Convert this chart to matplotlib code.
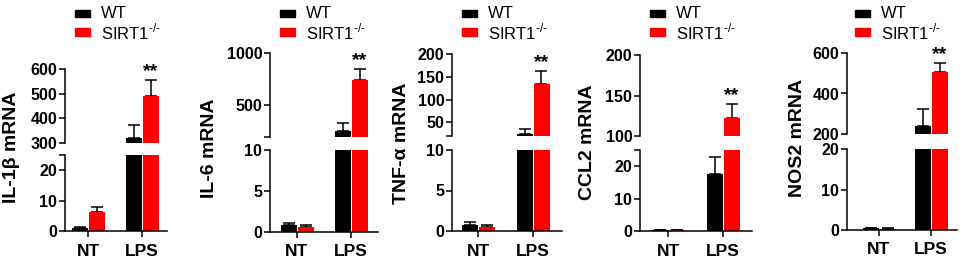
import numpy as np
import matplotlib
matplotlib.use('Agg')
import matplotlib.pyplot as plt
from matplotlib.patches import Rectangle

plt.rcParams['font.family'] = ['Liberation Sans', 'DejaVu Sans']
plt.rcParams['mathtext.fontset'] = 'custom'
plt.rcParams['mathtext.rm'] = 'Liberation Sans'

# ---- data ----
groups = ['NT', 'LPS']
ylabels = ['IL-1\u03b2 mRNA', 'IL-6 mRNA', 'TNF-\u03b1 mRNA', 'CCL2 mRNA', 'NOS2 mRNA']

wt_nt = [1.0, 0.9, 0.8, 0.4, 0.5]
wt_nt_err = [0.3, 0.2, 0.25, 0.05, 0.05]
ko_nt = [6.4, 0.6, 0.5, 0.4, 0.3]
ko_nt_err = [1.4, 0.2, 0.3, 0.05, 0.3]
wt_lps = [320, 260, 25, 17.5, 241]
wt_lps_err = [55, 70, 10, 5.3, 80]
ko_lps = [490, 740, 135, 122, 505]
ko_lps_err = [65, 110, 28, 18, 47]
stars = ['**', '**', '**', '**', '**']

# axis ranges of the broken y axes
upper_lim = [(300, 600), (200, 1000), (20, 200), (100, 200), (200, 600)]
upper_ticks = [[300, 400, 500, 600], [200, 500, 1000], [20, 50, 100, 150, 200],
               [100, 150, 200], [200, 400, 600]]
upper_labels = [['300', '400', '500', '600'], ['', '500', '1000'],
                ['', '50', '100', '150', '200'], ['100', '150', '200'],
                ['200', '400', '600']]
lower_lim = [(0, 25), (0, 10), (0, 10), (0, 25), (0, 20)]
lower_ticks = [[0, 10, 20, 25], [0, 5, 10], [0, 5, 10], [0, 10, 20, 25], [0, 10, 20]]
lower_labels = [['0', '10', '20', ''], ['0', '5', '10'], ['0', '5', '10'],
                ['0', '10', '20', ''], ['0', '10', '20']]

# ---- layout in pixels: spine x, NT centre, LPS centre, right end, y's ----
W, H = 965, 260
panels_px = [
    (65, 88, 142, 167, 69, 143, 155, 231),
    (270, 297, 351, 378, 53, 137, 150, 232),
    (452, 478, 533, 562, 54, 136, 150, 231),
    (640, 668, 723, 752, 55, 136, 150, 231),
    (847, 879, 931, 957, 53, 134, 149, 230),
]
ylabel_px = [(12, 147), (209, 148), (402, 143), (588, 142), (798, 138)]
legend_px = [75, 280, 462, 650, 855]

BLACK = '#000000'
RED = '#ff0000'
LW = 1.1


def fx(x):
    return x / W


def fy(y):
    return 1 - y / H


def style_left(ax):
    for s in ['top', 'right', 'bottom']:
        ax.spines[s].set_visible(False)
    ax.spines['left'].set_linewidth(LW)
    ax.tick_params(axis='y', length=4, width=LW, pad=1.5, labelsize=11.5)
    for t in ax.get_yticklabels():
        t.set_fontweight('bold')


fig = plt.figure(figsize=(W / 100, H / 100), dpi=100)

for i in range(5):
    sx, nc, lc, rx, ut, ub, lt, lb = panels_px[i]
    span = lc - nc
    xlim = ((sx - nc) / span, (rx - nc) / span)
    bw = 16 / span
    off = 8.5 / span

    ax_up = fig.add_axes([fx(sx), fy(ub), fx(rx - sx), (ub - ut) / H])
    ax_lo = fig.add_axes([fx(sx), fy(lb), fx(rx - sx), (lb - lt) / H])

    x = np.arange(len(groups))
    wt = [wt_nt[i], wt_lps[i]]
    wt_e = [wt_nt_err[i], wt_lps_err[i]]
    ko = [ko_nt[i], ko_lps[i]]
    ko_e = [ko_nt_err[i], ko_lps_err[i]]

    for ax in (ax_up, ax_lo):
        ax.bar(x - off, wt, bw, color=BLACK, zorder=2)
        ax.bar(x + off, ko, bw, color=RED, zorder=2)
        ax.errorbar(x - off, wt, yerr=[np.zeros(2), wt_e], fmt='none',
                    ecolor=BLACK, elinewidth=LW, capsize=4, capthick=LW, zorder=1)
        ax.errorbar(x + off, ko, yerr=[np.zeros(2), ko_e], fmt='none',
                    ecolor=BLACK, elinewidth=LW, capsize=4, capthick=LW, zorder=1)
        ax.set_xlim(*xlim)

    ax_up.set_ylim(*upper_lim[i])
    ax_up.set_yticks(upper_ticks[i])
    ax_up.set_yticklabels(upper_labels[i])
    ax_up.set_xticks([])
    style_left(ax_up)

    ax_lo.set_ylim(*lower_lim[i])
    ax_lo.set_yticks(lower_ticks[i])
    ax_lo.set_yticklabels(lower_labels[i])
    style_left(ax_lo)
    ax_lo.spines['bottom'].set_visible(True)
    ax_lo.spines['bottom'].set_linewidth(LW)
    ax_lo.set_xticks(x)
    ax_lo.set_xticklabels(groups, fontsize=12.5, fontweight='bold')
    ax_lo.tick_params(axis='x', length=4, width=LW, pad=5)

    # significance marks
    ax_up.annotate(stars[i], (1 + off, ko_lps[i] + ko_lps_err[i]),
                   xytext=(0, 0), textcoords='offset points',
                   ha='center', va='bottom', fontsize=14, fontweight='bold',
                   annotation_clip=False)

    # y label spanning both halves
    lx, ly = ylabel_px[i]
    fig.text(fx(lx), fy(ly), ylabels[i], rotation=90, ha='center', va='center',
             fontsize=14, fontweight='bold')

    # legend
    gx = legend_px[i]
    for row, (col, lab) in enumerate([(BLACK, 'WT'), (RED, 'SIRT1$^{\\text{-/-}}$')]):
        yc = 13.5 + row * 18.5
        fig.patches.append(Rectangle((fx(gx), fy(yc + 3.5)), fx(15), 7 / H,
                                     transform=fig.transFigure, color=col))
        fig.text(fx(gx + 26), fy(yc), lab, ha='left', va='center', fontsize=12)

fig.savefig('out.png', dpi=100)
